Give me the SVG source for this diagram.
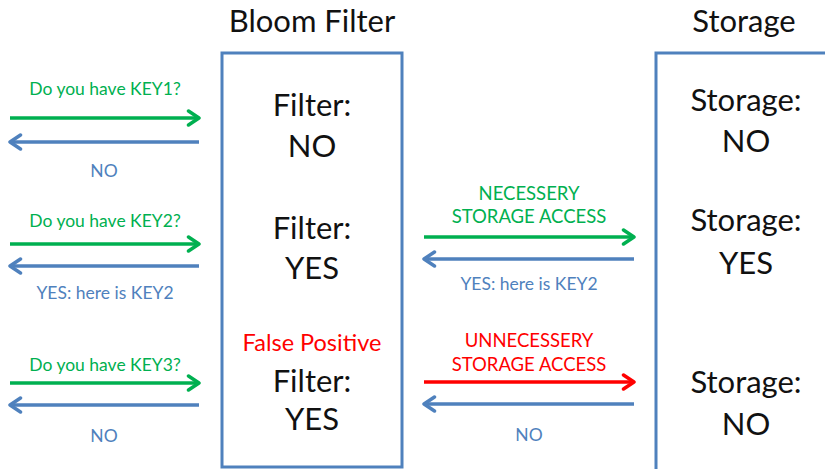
<svg xmlns="http://www.w3.org/2000/svg" width="825" height="469" viewBox="0 0 825 469">
  <style>
    text { font-family: Lato, "Open Sans", "Liberation Sans", sans-serif; text-anchor: middle; }
    .title { font-size: 31px; fill: #111; }
    .big { font-size: 31px; fill: #111; }
    .lbl { font-size: 17.5px; }
    .caps { font-size: 18.5px; }
    .g { fill: #00b050; }
    .b { fill: #4f81bd; }
    .r { fill: #ff0000; }
    .box { fill: #fff; stroke: #4f81bd; stroke-width: 3; }
    .ag { stroke: #00b050; stroke-width: 3.5; fill: none; }
    .ab { stroke: #4f81bd; stroke-width: 3.5; fill: none; }
    .ar { stroke: #ff0000; stroke-width: 3.5; fill: none; }
  </style>
  <defs>
    <marker id="hg" viewBox="0 0 10 10" refX="8" refY="5" markerWidth="5" markerHeight="5" orient="auto" markerUnits="strokeWidth">
      <path d="M2,1 L8,5 L2,9" fill="none" stroke="#00b050" stroke-width="2" stroke-linecap="round" stroke-linejoin="round"/>
    </marker>
    <marker id="hb" viewBox="0 0 10 10" refX="8" refY="5" markerWidth="5" markerHeight="5" orient="auto" markerUnits="strokeWidth">
      <path d="M2,1 L8,5 L2,9" fill="none" stroke="#4f81bd" stroke-width="2" stroke-linecap="round" stroke-linejoin="round"/>
    </marker>
    <marker id="hr" viewBox="0 0 10 10" refX="8" refY="5" markerWidth="5" markerHeight="5" orient="auto" markerUnits="strokeWidth">
      <path d="M2,1 L8,5 L2,9" fill="none" stroke="#ff0000" stroke-width="2" stroke-linecap="round" stroke-linejoin="round"/>
    </marker>
  </defs>
  <rect width="825" height="469" fill="#fff"/>

  <g id="bloom-filter">
    <text class="title" x="312" y="32">Bloom Filter</text>
    <rect class="box" x="222" y="53" width="180" height="414"/>
    <text class="big" x="312" y="116">Filter:</text>
    <text class="big" x="312" y="157">NO</text>
    <text class="big" x="312" y="239">Filter:</text>
    <text class="big" x="312" y="279">YES</text>
    <text class="r" x="312" y="351" font-size="23.5">False Positive</text>
    <text class="big" x="312" y="392">Filter:</text>
    <text class="big" x="312" y="430">YES</text>
  </g>

  <g id="storage">
    <text class="title" x="744" y="32">Storage</text>
    <rect class="box" x="656" y="53" width="180" height="420"/>
    <text class="big" x="746" y="111">Storage:</text>
    <text class="big" x="746" y="152">NO</text>
    <text class="big" x="746" y="231">Storage:</text>
    <text class="big" x="746" y="274">YES</text>
    <text class="big" x="746" y="393">Storage:</text>
    <text class="big" x="746" y="435">NO</text>
  </g>

  <g id="connectors">
    <line class="ag" x1="10" y1="118" x2="199" y2="118" marker-end="url(#hg)"/>
    <line class="ab" x1="199" y1="142" x2="10" y2="142" marker-end="url(#hb)"/>
    <line class="ag" x1="10" y1="244" x2="199" y2="244" marker-end="url(#hg)"/>
    <line class="ab" x1="199" y1="266" x2="10" y2="266" marker-end="url(#hb)"/>
    <line class="ag" x1="10" y1="383" x2="199" y2="383" marker-end="url(#hg)"/>
    <line class="ab" x1="199" y1="405" x2="10" y2="405" marker-end="url(#hb)"/>
    <line class="ag" x1="424" y1="237" x2="634" y2="237" marker-end="url(#hg)"/>
    <line class="ab" x1="634" y1="259" x2="424" y2="259" marker-end="url(#hb)"/>
    <line class="ar" x1="424" y1="382" x2="634" y2="382" marker-end="url(#hr)"/>
    <line class="ab" x1="634" y1="404" x2="424" y2="404" marker-end="url(#hb)"/>
  </g>

  <g id="labels">
    <text class="lbl g" x="105" y="95">Do you have KEY1?</text>
    <text class="lbl b" x="104" y="177">NO</text>
    <text class="lbl g" x="105" y="227">Do you have KEY2?</text>
    <text class="lbl b" x="105" y="299">YES: here is KEY2</text>
    <text class="lbl g" x="105" y="371">Do you have KEY3?</text>
    <text class="lbl b" x="104" y="442">NO</text>
    <text class="caps g" x="529" y="200">NECESSERY</text>
    <text class="caps g" x="529" y="223">STORAGE ACCESS</text>
    <text class="lbl b" x="529" y="290">YES: here is KEY2</text>
    <text class="caps r" x="529" y="347">UNNECESSERY</text>
    <text class="caps r" x="529" y="371">STORAGE ACCESS</text>
    <text class="lbl b" x="529" y="441">NO</text>
  </g>
</svg>
